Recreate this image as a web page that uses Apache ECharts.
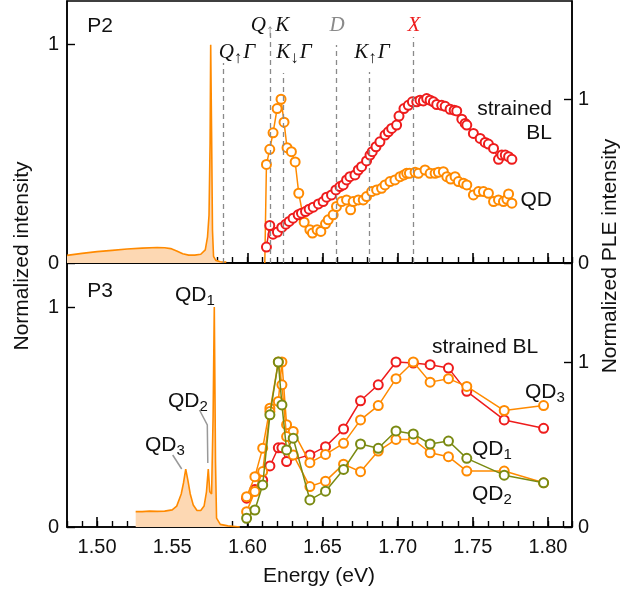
<!DOCTYPE html>
<html>
<head>
<meta charset="utf-8">
<script src="https://cdn.jsdelivr.net/npm/echarts@6/dist/echarts.min.js"></script>
<style>
  html, body { margin: 0; padding: 0; background: #fff; }
  #chart { width: 620px; height: 594px; }
</style>
</head>
<body>
<div id="chart"></div>
<script>
// ---- data ----
// x ticks (eV)
const majorTicks = [1.50, 1.55, 1.60, 1.65, 1.70, 1.75, 1.80]
const yTicks = [0, 1]

// P2: PL spectrum (left axis)
const plTopE = [1.480, 1.490, 1.500, 1.510, 1.520, 1.530, 1.540, 1.545, 1.549, 1.553, 1.557, 1.561, 1.565, 1.569, 1.572, 1.5735, 1.5745, 1.5752, 1.5756, 1.5762, 1.5768, 1.5775, 1.579, 1.582, 1.586]
const plTopI = [0.035, 0.044, 0.052, 0.058, 0.064, 0.068, 0.071, 0.070, 0.066, 0.055, 0.042, 0.036, 0.036, 0.040, 0.060, 0.12, 0.22, 0.55, 1.0, 0.6, 0.15, 0.03, 0.012, 0.006, 0.004]

// P2: QD PLE (right axis)
const qdTopE = [1.6116, 1.6127, 1.6149, 1.6171, 1.6198, 1.6224, 1.6244, 1.6264, 1.6293, 1.6318, 1.6342, 1.6378, 1.6416, 1.6433, 1.6464, 1.6489, 1.652, 1.6538, 1.6571, 1.6593, 1.6627, 1.666, 1.6687, 1.6704, 1.6738, 1.6771, 1.6793, 1.6827, 1.686, 1.6893, 1.6916, 1.6949, 1.6982, 1.7016, 1.7042, 1.706, 1.7078, 1.7116, 1.7138, 1.7182, 1.7216, 1.7249, 1.7271, 1.7304, 1.7327, 1.7353, 1.7382, 1.7404, 1.7438, 1.746, 1.7504, 1.7538, 1.7571, 1.7604, 1.7638, 1.7671, 1.7704, 1.7727, 1.7738, 1.776]
const qdTopV = [0.0, 0.602, 0.694, 0.795, 0.943, 1.0, 0.86, 0.704, 0.68, 0.617, 0.426, 0.249, 0.203, 0.183, 0.203, 0.193, 0.239, 0.264, 0.294, 0.345, 0.375, 0.385, 0.325, 0.375, 0.385, 0.385, 0.406, 0.436, 0.446, 0.456, 0.477, 0.497, 0.507, 0.527, 0.538, 0.548, 0.548, 0.554, 0.548, 0.568, 0.548, 0.548, 0.554, 0.558, 0.527, 0.513, 0.527, 0.497, 0.487, 0.477, 0.416, 0.436, 0.436, 0.426, 0.375, 0.385, 0.375, 0.389, 0.422, 0.365]

// P2: strained BL PLE (right axis)
const blTopE = [1.6127, 1.6149, 1.6171, 1.62, 1.6229, 1.6256, 1.6278, 1.6304, 1.6338, 1.636, 1.6387, 1.6411, 1.6438, 1.6473, 1.6504, 1.6527, 1.656, 1.6589, 1.6616, 1.6638, 1.666, 1.6682, 1.6716, 1.6738, 1.676, 1.6793, 1.6816, 1.6831, 1.6856, 1.6882, 1.6916, 1.6938, 1.696, 1.6993, 1.7009, 1.7042, 1.7071, 1.7098, 1.7127, 1.7149, 1.7171, 1.7193, 1.7216, 1.7238, 1.726, 1.7293, 1.7316, 1.7349, 1.7376, 1.7393, 1.7427, 1.7449, 1.746, 1.7504, 1.7549, 1.7582, 1.7604, 1.7638, 1.7671, 1.7693, 1.7716, 1.7738, 1.776]
const blTopV = [0.097, 0.229, 0.176, 0.189, 0.217, 0.237, 0.254, 0.274, 0.294, 0.304, 0.314, 0.329, 0.341, 0.361, 0.375, 0.402, 0.416, 0.446, 0.467, 0.477, 0.507, 0.527, 0.538, 0.568, 0.588, 0.623, 0.659, 0.68, 0.71, 0.74, 0.781, 0.801, 0.822, 0.842, 0.897, 0.943, 0.963, 0.984, 0.984, 0.994, 0.99, 1.004, 0.994, 0.984, 0.968, 0.963, 0.957, 0.939, 0.933, 0.929, 0.878, 0.852, 0.842, 0.791, 0.761, 0.736, 0.726, 0.7, 0.633, 0.659, 0.659, 0.649, 0.633]

// P3: PL spectrum (left axis)
const plBotE = [1.5257, 1.530, 1.535, 1.540, 1.545, 1.550, 1.553, 1.556, 1.5575, 1.559, 1.5605, 1.562, 1.564, 1.5665, 1.569, 1.5712, 1.5728, 1.574, 1.575, 1.5762, 1.5772, 1.578, 1.5788, 1.5795, 1.582, 1.587, 1.595]
const plBotI = [0.07, 0.07, 0.072, 0.071, 0.072, 0.078, 0.095, 0.15, 0.2, 0.263, 0.21, 0.15, 0.1, 0.075, 0.075, 0.095, 0.16, 0.263, 0.16, 0.15, 0.5, 1.0, 0.3, 0.04, 0.012, 0.005, 0.0]

// P3: PLE (right axis)
const pleBotE = [1.5995, 1.605, 1.6102, 1.615, 1.6206, 1.623, 1.6261, 1.6305, 1.6416, 1.652, 1.664, 1.6753, 1.6871, 1.6989, 1.7104, 1.7216, 1.7338, 1.746, 1.7709, 1.7971]
const blBotV = [0.175, 0.228, 0.284, 0.37, 0.48, 0.48, 0.397, null, 0.437, 0.487, 0.594, 0.765, 0.862, 1.0, 0.994, 0.984, 0.963, 0.822, 0.649, 0.598]
const qd3BotV = [0.184, 0.305, 0.478, 0.72, 0.761, 1.0, 0.62, 0.579, 0.39, 0.44, 0.507, 0.649, 0.736, 0.899, 1.0, 0.878, 0.899, 0.852, 0.706, 0.736]
const qd2BotV = [0.093, 0.215, 0.336, 0.70, 1.0, 0.862, 0.548, 0.437, 0.245, 0.278, 0.381, 0.335, 0.46, 0.531, 0.531, 0.45, 0.426, 0.339, 0.339, 0.268]
const qd1BotV = [0.053, 0.103, 0.255, 0.68, 1.0, 0.74, 0.467, 0.538, 0.164, 0.217, 0.349, 0.503, 0.477, 0.582, 0.564, 0.503, 0.521, 0.416, 0.314, 0.268]

// transition energies (dashed lines) and where they stop in the top panel (left axis units)
const transE = [1.584, 1.615, 1.6239, 1.6594, 1.681, 1.7103]
const transTop = [0.916, 1.054, 0.87, 0.999, 0.875, 1.035]

const orange = '#ff8a00'
const fillOrange = '#fdd8b3'
const red = '#ee1c1c'
const olive = '#7a8a12'
const dashGray = '#8a8a8a'
const sans = 'Liberation Sans'
const serif = 'Liberation Serif'

function zip(xs, ys) {
  return xs.map(function (x, i) { return [x, ys[i]] })
}

const chart = echarts.init(document.getElementById('chart'))

function majorX(grid, labels) {
  return {
    gridIndex: grid, type: 'value', min: 1.48, max: 1.816,
    axisLine: { show: true, onZero: false, lineStyle: { color: '#000', width: 1.5 } },
    axisTick: { show: true, inside: true, length: 10, customValues: majorTicks, lineStyle: { color: '#000', width: 1.6 } },
    axisLabel: { show: labels, customValues: majorTicks, margin: 10, fontFamily: sans, fontSize: 20, color: '#111',
      formatter: function (v) { return v.toFixed(2) } },
    splitLine: { show: false }
  }
}
// minor ticks every 0.01 eV, on an overlay grid
function minorX(grid) {
  return {
    gridIndex: grid, type: 'value', min: 1.48, max: 1.816, interval: 0.01,
    axisLine: { show: false, onZero: false },
    axisTick: { show: true, inside: true, length: 6, lineStyle: { color: '#000', width: 1.4 } },
    axisLabel: { show: false },
    splitLine: { show: false }
  }
}

function yAxis(grid, pos, max, margin) {
  return {
    gridIndex: grid, type: 'value', position: pos, min: 0, max: max,
    axisLine: { show: true, onZero: false, lineStyle: { color: '#000', width: 1.5 } },
    axisTick: { show: true, inside: true, length: 8, customValues: yTicks, lineStyle: { color: '#000', width: 1.4 } },
    axisLabel: { customValues: yTicks, margin: margin, fontFamily: sans, fontSize: 20, color: '#111' },
    splitLine: { show: false }
  }
}

function dashLines(full) {
  return {
    silent: true, symbol: ['none', 'none'], animation: false,
    label: { show: false },
    lineStyle: { color: dashGray, type: [5, 4], width: 1.3 },
    data: transE.map(function (e, i) {
      return [{ coord: [e, 0] }, { coord: [e, full ? 1.21 : transTop[i]] }]
    })
  }
}

function pleSeries(xi, yi, data, color, z) {
  return {
    type: 'line', xAxisIndex: xi, yAxisIndex: yi, data: data, z: z,
    symbol: 'emptyCircle', symbolSize: 9, connectNulls: true,
    itemStyle: { color: color, borderWidth: 1.3 },
    lineStyle: { color: color, width: 1.5 },
    animation: false
  }
}

const qdTopData = zip(qdTopE, qdTopV)
qdTopData[0] = { value: qdTopData[0], symbol: 'none' }

const sub = function (c) {
  return { fontSize: 17, fontFamily: serif, fill: c || '#111', padding: [14, 1, 0, 0] }
}
const it = { fontSize: 21, fontFamily: serif, fontStyle: 'italic', fill: '#111' }

function label(x, y, text, rich, align) {
  return { type: 'text', x: x, y: y, style: { text: text, rich: rich, align: align || 'center', verticalAlign: 'middle' } }
}
function plain(x, y, text, opts) {
  return { type: 'text', x: x, y: y, style: Object.assign({ text: text, fontFamily: sans, fontSize: 21, fill: '#111', align: 'center', verticalAlign: 'middle' }, opts || {}) }
}
const qdRich = { m: { fontSize: 21, fontFamily: sans, fill: '#111' }, s: { fontSize: 15, fontFamily: sans, fill: '#111', padding: [12, 0, 0, 0] } }

const topRect = { left: 67, top: 1, width: 505, height: 262 }
const botRect = { left: 67, top: 263, width: 505, height: 264 }

const option = {
  backgroundColor: '#fff',
  animation: false,
  grid: [
    Object.assign({ show: true, borderColor: '#000', borderWidth: 1.5 }, topRect),
    Object.assign({ show: false }, topRect),
    Object.assign({ show: true, borderColor: '#000', borderWidth: 1.5 }, botRect),
    Object.assign({ show: false }, botRect)
  ],
  xAxis: [majorX(0, false), minorX(1), majorX(2, true), minorX(3)],
  yAxis: [
    yAxis(0, 'left', 1.2, 8), yAxis(0, 'right', 1.6, 6),
    { gridIndex: 1, type: 'value', min: 0, max: 1, show: false },
    yAxis(2, 'left', 1.2, 8), yAxis(2, 'right', 1.6, 6),
    { gridIndex: 3, type: 'value', min: 0, max: 1, show: false }
  ],
  series: [
    {
      type: 'line', xAxisIndex: 0, yAxisIndex: 0, data: zip(plTopE, plTopI), symbol: 'none', z: 2,
      lineStyle: { color: orange, width: 1.6 }, areaStyle: { color: fillOrange, opacity: 1 },
      markLine: dashLines(false)
    },
    pleSeries(0, 1, qdTopData, orange, 3),
    pleSeries(0, 1, zip(blTopE, blTopV), red, 4),
    {
      type: 'line', xAxisIndex: 2, yAxisIndex: 3, data: zip(plBotE, plBotI), symbol: 'none', z: 2,
      lineStyle: { color: orange, width: 1.6 }, areaStyle: { color: fillOrange, opacity: 1 },
      markLine: dashLines(true)
    },
    pleSeries(2, 4, zip(pleBotE, blBotV), red, 3),
    pleSeries(2, 4, zip(pleBotE, qd3BotV), orange, 4),
    pleSeries(2, 4, zip(pleBotE, qd2BotV), orange, 5),
    pleSeries(2, 4, zip(pleBotE, qd1BotV), olive, 6)
  ],
  graphic: [
    plain(100, 26, 'P2'),
    plain(100, 291, 'P3'),
    // transition labels
    label(270, 25, '{i|Q}{s|↑}{i|K}', { i: it, s: sub(dashGray) }),
    label(337, 25, '{i|D}', { i: Object.assign({}, it, { fill: dashGray }) }),
    label(414, 25, '{i|X}', { i: Object.assign({}, it, { fill: red }) }),
    label(237, 52, '{i|Q}{s|↑}{i|Γ}', { i: it, s: sub() }),
    label(294, 52, '{i|K}{s|↓}{i|Γ}', { i: it, s: sub() }),
    label(372, 52, '{i|K}{s|↑}{i|Γ}', { i: it, s: sub() }),
    // top panel series names
    plain(552, 109, 'strained', { align: 'right' }),
    plain(552, 133, 'BL', { align: 'right' }),
    plain(552, 200, 'QD', { align: 'right' }),
    // bottom panel
    plain(485, 347, 'strained BL'),
    label(525, 392, '{m|QD}{s|3}', qdRich, 'left'),
    label(472, 449, '{m|QD}{s|1}', qdRich, 'left'),
    label(472, 494, '{m|QD}{s|2}', qdRich, 'left'),
    label(175, 295, '{m|QD}{s|1}', qdRich, 'left'),
    label(168, 401, '{m|QD}{s|2}', qdRich, 'left'),
    label(145, 445, '{m|QD}{s|3}', qdRich, 'left'),
    { type: 'polyline', shape: { points: [[199.5, 410], [207.3, 425], [207.8, 463]] }, style: { stroke: '#999', lineWidth: 1.5, fill: null } },
    { type: 'line', shape: { x1: 172.7, y1: 455, x2: 181.7, y2: 469 }, style: { stroke: '#999', lineWidth: 1.5 } },
    // axis names
    plain(319, 576, 'Energy (eV)'),
    { type: 'text', x: 22, y: 256, rotation: Math.PI / 2, style: { text: 'Normalized intensity', fontFamily: sans, fontSize: 21, fill: '#111', align: 'center', verticalAlign: 'middle' } },
    { type: 'text', x: 610, y: 256, rotation: Math.PI / 2, style: { text: 'Normalized PLE intensity', fontFamily: sans, fontSize: 21, fill: '#111', align: 'center', verticalAlign: 'middle' } }
  ]
}

chart.setOption(option)
</script>
</body>
</html>
